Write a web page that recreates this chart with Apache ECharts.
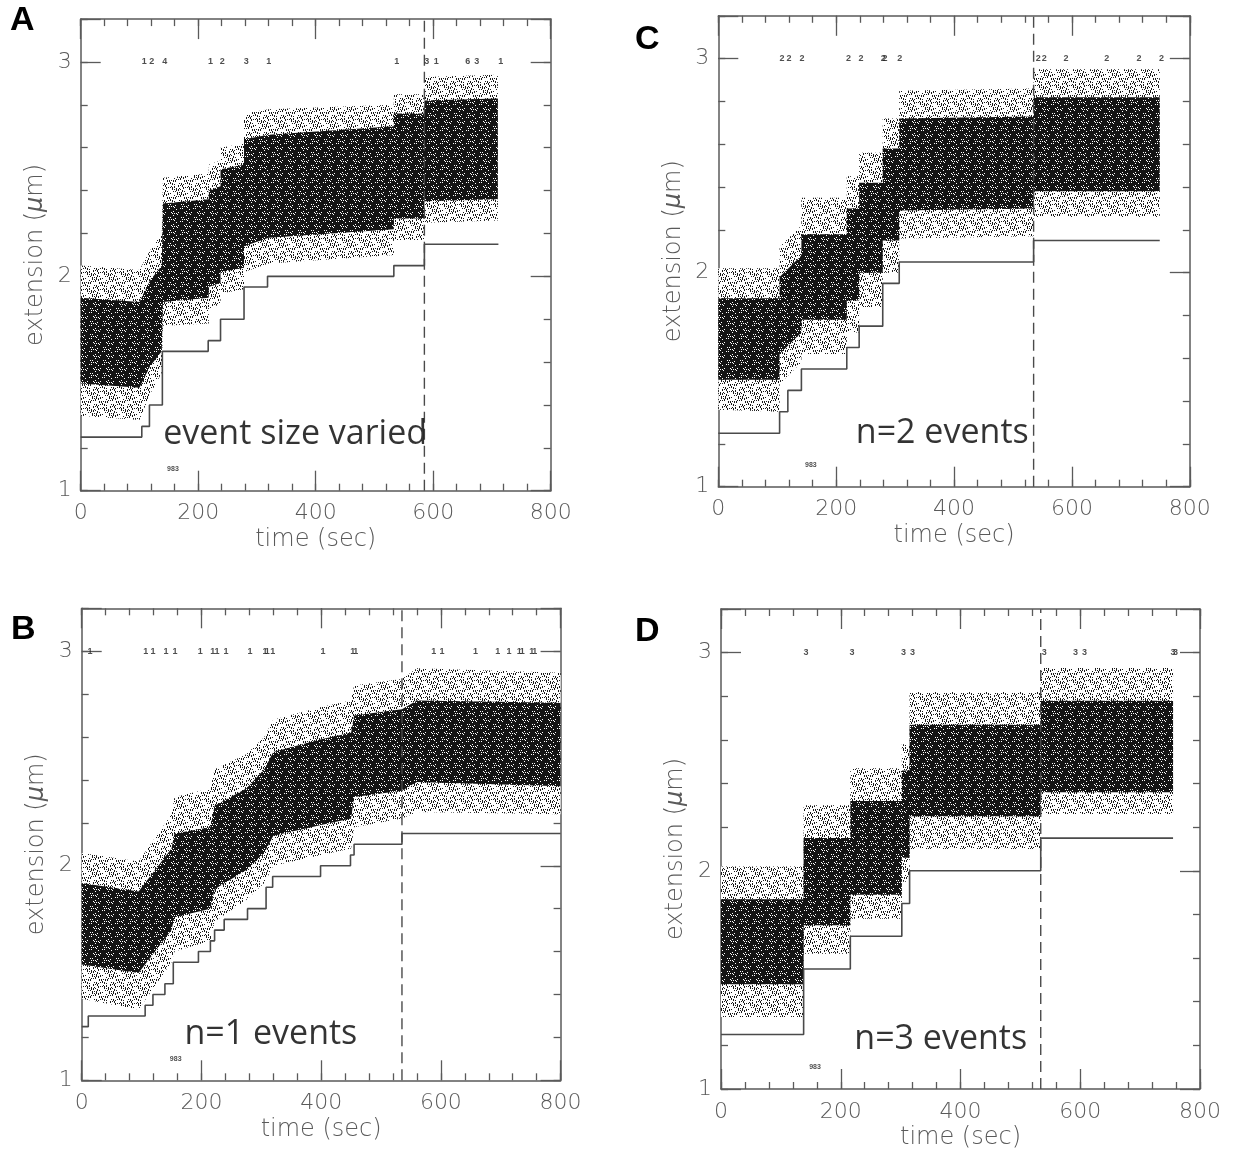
<!DOCTYPE html>
<html><head><meta charset="utf-8">
<script src="https://cdn.jsdelivr.net/npm/echarts@6/dist/echarts.min.js"></script>
<style>html,body{margin:0;padding:0;background:#fff}#c{width:1233px;height:1156px}</style>
</head><body><div id="c"></div>
<script>
// ---------- Panel A : event size varied ----------
const A_stepT = [0, 104, 117, 139, 217, 238, 278, 318, 533, 585, 711];
const A_stepV = [1.25, 1.30, 1.40, 1.65, 1.70, 1.80, 1.95, 2.00, 2.05, 2.15, 2.15];
const A_cloudT  = [0,    100,  118,  138,  140,  218,  218,  238,  238,  278,  278,  320,  533,  533,  585,  585,  710];
const A_coreLo  = [1.50, 1.48, 1.58, 1.65, 1.88, 1.90, 1.95, 1.97, 2.02, 2.04, 2.14, 2.18, 2.22, 2.27, 2.27, 2.35, 2.36];
const A_coreHi  = [1.90, 1.88, 1.98, 2.05, 2.34, 2.36, 2.40, 2.42, 2.50, 2.52, 2.64, 2.66, 2.70, 2.76, 2.76, 2.82, 2.83];
const A_haloLo  = [1.35, 1.33, 1.45, 1.55, 1.77, 1.78, 1.85, 1.87, 1.92, 1.94, 2.02, 2.06, 2.10, 2.17, 2.17, 2.25, 2.26];
const A_haloHi  = [2.05, 2.03, 2.12, 2.20, 2.46, 2.48, 2.52, 2.54, 2.60, 2.62, 2.76, 2.78, 2.80, 2.85, 2.85, 2.93, 2.94];
const A_evT = [108, 121, 143, 221, 241, 282, 320, 538, 589, 605, 659, 674, 715];
const A_evL = ['1', '2', '4', '1', '2', '3', '1', '1', '3', '1', '6', '3', '1'];
const A_dash = 585;

// ---------- Panel B : n=1 events ----------
const B_stepT = [0, 11, 106, 119, 139, 153, 195, 215, 222, 238, 277, 308, 319, 399, 449, 455, 535, 800];
const B_stepV = [1.25, 1.30, 1.35, 1.40, 1.45, 1.55, 1.60, 1.65, 1.70, 1.75, 1.80, 1.90, 1.95, 2.00, 2.05, 2.10, 2.15, 2.15];
const B_cloudT  = [0,    95,   150,  155,  215,  222,  275,  305,  320,  400,  450,  455,  535,  560,  800];
const B_coreLo  = [1.54, 1.50, 1.70, 1.76, 1.80, 1.89, 1.98, 2.06, 2.14, 2.19, 2.22, 2.32, 2.35, 2.39, 2.37];
const B_coreHi  = [1.92, 1.88, 2.08, 2.15, 2.18, 2.28, 2.36, 2.45, 2.53, 2.59, 2.62, 2.70, 2.73, 2.77, 2.76];
const B_haloLo  = [1.38, 1.33, 1.55, 1.60, 1.65, 1.74, 1.84, 1.92, 2.00, 2.05, 2.08, 2.18, 2.22, 2.25, 2.24];
const B_haloHi  = [2.06, 2.02, 2.24, 2.32, 2.36, 2.45, 2.52, 2.60, 2.68, 2.74, 2.77, 2.84, 2.87, 2.92, 2.90];
const B_evT = [14, 107, 119, 141, 156, 198, 219, 226, 241, 281, 306, 310, 319, 403, 453, 458, 588, 602, 658, 695, 714, 731, 736, 752, 757];
const B_evL = ['1','1','1','1','1','1','1','1','1','1','1','1','1','1','1','1','1','1','1','1','1','1','1','1','1'];
const B_dash = 535;

// ---------- Panel C : n=2 events ----------
const C_stepT = [0, 104, 118, 141, 218, 239, 279, 307, 535, 749];
const C_stepV = [1.25, 1.35, 1.45, 1.55, 1.65, 1.75, 1.95, 2.05, 2.15, 2.15];
const C_cloudT  = [0,    104,  104,  141,  141,  218,  218,  239,  239,  279,  279,  307,  307,  535,  535,  749];
const C_coreLo  = [1.50, 1.50, 1.62, 1.72, 1.78, 1.78, 1.87, 1.87, 2.00, 2.00, 2.15, 2.15, 2.29, 2.30, 2.38, 2.38];
const C_coreHi  = [1.88, 1.88, 1.98, 2.08, 2.18, 2.18, 2.30, 2.30, 2.42, 2.42, 2.58, 2.58, 2.72, 2.73, 2.82, 2.82];
const C_haloLo  = [1.36, 1.35, 1.48, 1.58, 1.62, 1.62, 1.72, 1.72, 1.84, 1.84, 2.00, 2.00, 2.16, 2.17, 2.26, 2.26];
const C_haloHi  = [2.02, 2.02, 2.12, 2.22, 2.35, 2.35, 2.45, 2.45, 2.56, 2.56, 2.72, 2.72, 2.85, 2.86, 2.95, 2.95];
const C_evT = [108, 120, 142, 221, 242, 280, 283, 308, 543, 553, 590, 659, 714, 752];
const C_evL = ['2','2','2','2','2','2','2','2','2','2','2','2','2','2'];
const C_dash = 535;

// ---------- Panel D : n=3 events ----------
const D_stepT = [0, 138, 216, 302, 315, 534, 755];
const D_stepV = [1.25, 1.55, 1.70, 1.85, 2.00, 2.15, 2.15];
const D_cloudT  = [0,    138,  138,  216,  216,  302,  302,  315,  315,  534,  534,  755];
const D_coreLo  = [1.48, 1.48, 1.75, 1.75, 1.89, 1.89, 2.06, 2.06, 2.25, 2.25, 2.36, 2.36];
const D_coreHi  = [1.87, 1.87, 2.15, 2.15, 2.32, 2.32, 2.46, 2.46, 2.67, 2.67, 2.78, 2.78];
const D_haloLo  = [1.33, 1.33, 1.62, 1.62, 1.78, 1.78, 1.95, 1.95, 2.10, 2.10, 2.26, 2.26];
const D_haloHi  = [2.02, 2.02, 2.30, 2.30, 2.47, 2.47, 2.58, 2.58, 2.82, 2.82, 2.93, 2.93];
const D_evT = [142, 219, 305, 320, 540, 592, 607, 755, 759];
const D_evL = ['3','3','3','3','3','3','3','3','3'];
const D_dash = 534;

// shared text
const xTicks = [0, 200, 400, 600, 800];
const yTicks = [1, 2, 3];
const noteText = '983';
const noteT = 157, noteV = 1.10;

const panels = [
  {letter:'A', title:'event size varied', titleT:365, titleV:1.265, stepT:A_stepT, stepV:A_stepV, cT:A_cloudT, cLo:A_coreLo, cHi:A_coreHi, hLo:A_haloLo, hHi:A_haloHi, evT:A_evT, evL:A_evL, dash:A_dash,
   grid:{left:80.7, top:19.1, width:470, height:471.6}, lx:26, ly:23},
  {letter:'C', title:'n=2 events', titleT:380, titleV:1.25, stepT:C_stepT, stepV:C_stepV, cT:C_cloudT, cLo:C_coreLo, cHi:C_coreHi, hLo:C_haloLo, hHi:C_haloHi, evT:C_evT, evL:C_evL, dash:C_dash,
   grid:{left:718.3, top:15.8, width:471.5, height:470.9}, lx:651, ly:42},
  {letter:'B', title:'n=1 events', titleT:316, titleV:1.215, stepT:B_stepT, stepV:B_stepV, cT:B_cloudT, cLo:B_coreLo, cHi:B_coreHi, hLo:B_haloLo, hHi:B_haloHi, evT:B_evT, evL:B_evL, dash:B_dash,
   grid:{left:81.7, top:608.3, width:478.9, height:472}, lx:27, ly:632},
  {letter:'D', title:'n=3 events', titleT:367, titleV:1.23, stepT:D_stepT, stepV:D_stepV, cT:D_cloudT, cLo:D_coreLo, cHi:D_coreHi, hLo:D_haloLo, hHi:D_haloHi, evT:D_evT, evL:D_evL, dash:D_dash,
   grid:{left:721, top:609, width:479, height:480}, lx:651, ly:634}
];

const AX = '#5a5a5a';
const labelFont = {color:'#5a5a5a', fontSize:22, fontFamily:'DejaVu Sans', fontWeight:200};
const nameFont = {color:'#5a5a5a', fontSize:24, fontFamily:'DejaVu Sans', fontWeight:200};

// fixed stipple textures (pure styling): sparse dots for the fringe, speckled black for the core
function makeTexture(size, bg, fg, test){
  const c = document.createElement('canvas'); c.width = size; c.height = size;
  const g = c.getContext('2d');
  g.fillStyle = bg; g.fillRect(0, 0, size, size);
  g.fillStyle = fg;
  for (let y = 0; y < size; y++) for (let x = 0; x < size; x++) if (test(x, y)) g.fillRect(x, y, 1, 1);
  return c;
}
const fringeTex = makeTexture(17, '#ffffff', '#1a1a1a', (x, y) => ((x * 7 + y * 11 + ((x * y) % 5)) % 13) < 3);
const coreTex = makeTexture(13, '#141414', '#ffffff', (x, y) => ((x * 5 + y * 8 + ((x * y) % 3)) % 11) === 0);

const grids = [], xAxes = [], yAxes = [], series = [], graphics = [];

function xAx(gi, pos, major){
  const a = {type:'value', gridIndex:gi, position:pos, min:0, max:800, interval: major ? 200 : 40,
    axisLine:{show: major, onZero:false, lineStyle:{color:AX, width:1.5}},
    axisTick:{show:true, inside:true, length: major ? 20 : 7, lineStyle:{color:AX, width:1.3}},
    axisLabel:{show:false}, splitLine:{show:false}};
  if (major && pos === 'bottom') {
    a.axisLabel = Object.assign({show:true, margin:12, formatter: v => xTicks.indexOf(v) >= 0 ? String(v) : ''}, labelFont);
    a.name = 'time (sec)'; a.nameLocation = 'middle'; a.nameGap = 37; a.nameTextStyle = nameFont;
  }
  return a;
}
function yAx(gi, pos, major){
  const a = {type:'value', gridIndex:gi, position:pos, min:1, max:3.2, interval: major ? 1 : 0.2,
    axisLine:{show: major, onZero:false, lineStyle:{color:AX, width:1.5}},
    axisTick:{show:true, inside:true, length: major ? 20 : 7, lineStyle:{color:AX, width:1.3}},
    axisLabel:{show:false}, splitLine:{show:false}};
  if (major && pos === 'left') {
    a.axisLabel = Object.assign({show:true, margin:9, formatter: v => yTicks.indexOf(Math.round(v*1000)/1000) >= 0 ? String(v) : ''}, labelFont);
    a.name = 'extension ({i|μ}m)'; a.nameLocation = 'middle'; a.nameGap = 33;
    a.nameTextStyle = Object.assign({rich:{i:Object.assign({fontStyle:'italic'}, nameFont)}}, nameFont);
  }
  return a;
}

function band(gi, T, lo, hi, fill, z){
  return {type:'custom', xAxisIndex:gi*4, yAxisIndex:gi*4, z:z, silent:true, clip:true,
    data: T.map((t,i) => [t, lo[i], hi[i]]),
    encode:{x:0, y:[1,2]},
    renderItem: function(params, api){
      if (params.dataIndex !== 0) return null;
      const pts = [];
      for (let i = 0; i < T.length; i++) pts.push(api.coord([T[i], lo[i]]));
      for (let i = T.length - 1; i >= 0; i--) pts.push(api.coord([T[i], hi[i]]));
      return {type:'polygon', shape:{points:pts}, style:{fill:fill}};
    }};
}

panels.forEach((p, gi) => {
  grids.push(Object.assign({containLabel:false}, p.grid));
  xAxes.push(xAx(gi,'bottom',true), xAx(gi,'bottom',false), xAx(gi,'top',true), xAx(gi,'top',false));
  yAxes.push(yAx(gi,'left',true), yAx(gi,'left',false), yAx(gi,'right',true), yAx(gi,'right',false));
  const xi = gi*4, yi = gi*4;
  series.push(band(gi, p.cT, p.hLo, p.hHi, {image: fringeTex, repeat:'repeat'}, 1));
  series.push(band(gi, p.cT, p.cLo, p.cHi, {image: coreTex, repeat:'repeat'}, 2));
  series.push({type:'line', xAxisIndex:xi, yAxisIndex:yi, step:'end', symbol:'none', z:3, silent:true,
    data: p.stepT.map((t,i) => [t, p.stepV[i]]), lineStyle:{color:'#4a4a4a', width:1.6}});
  series.push({type:'line', xAxisIndex:xi, yAxisIndex:yi, symbol:'none', z:3, silent:true,
    data: [[p.dash, 1], [p.dash, 3.2]], lineStyle:{color:'#4a4a4a', width:1.4, type:[11,6]}});
  series.push({type:'scatter', xAxisIndex:xi, yAxisIndex:yi, symbolSize:1, z:4, silent:true,
    itemStyle:{color:'rgba(0,0,0,0)'},
    data: p.evT.map((t,i) => [t, 3, p.evL[i]]),
    label:{show:true, position:'inside', formatter: q => q.data[2], fontSize:9, fontWeight:'bold', color:'#222', fontFamily:'Liberation Sans'}});
  series.push({type:'scatter', xAxisIndex:xi, yAxisIndex:yi, symbolSize:1, z:5, silent:true,
    itemStyle:{color:'rgba(0,0,0,0)'},
    data: [[noteT, noteV, noteText]],
    label:{show:true, position:'inside', formatter: q => q.data[2], fontSize:7, fontWeight:'bold', color:'#222', fontFamily:'Liberation Sans'}});
  series.push({type:'scatter', xAxisIndex:xi, yAxisIndex:yi, symbolSize:1, z:6, silent:true,
    itemStyle:{color:'rgba(0,0,0,0)'},
    data: [[p.titleT, p.titleV, p.title]],
    label:{show:true, position:'inside', formatter: q => q.data[2], fontSize:34, color:'#000', fontFamily:'Open Sans'}});
  graphics.push({type:'text', left:p.lx - 16, top:p.ly - 19,
    style:{text:p.letter, font:'bold 34px "Liberation Sans", Arial, sans-serif', fill:'#000'}});
});

const chart = echarts.init(document.getElementById('c'), null, {renderer:'canvas'});
chart.setOption({
  animation:false, backgroundColor:'#fff',
  grid: grids, xAxis: xAxes, yAxis: yAxes, series: series, graphic: graphics
});
</script></body></html>
